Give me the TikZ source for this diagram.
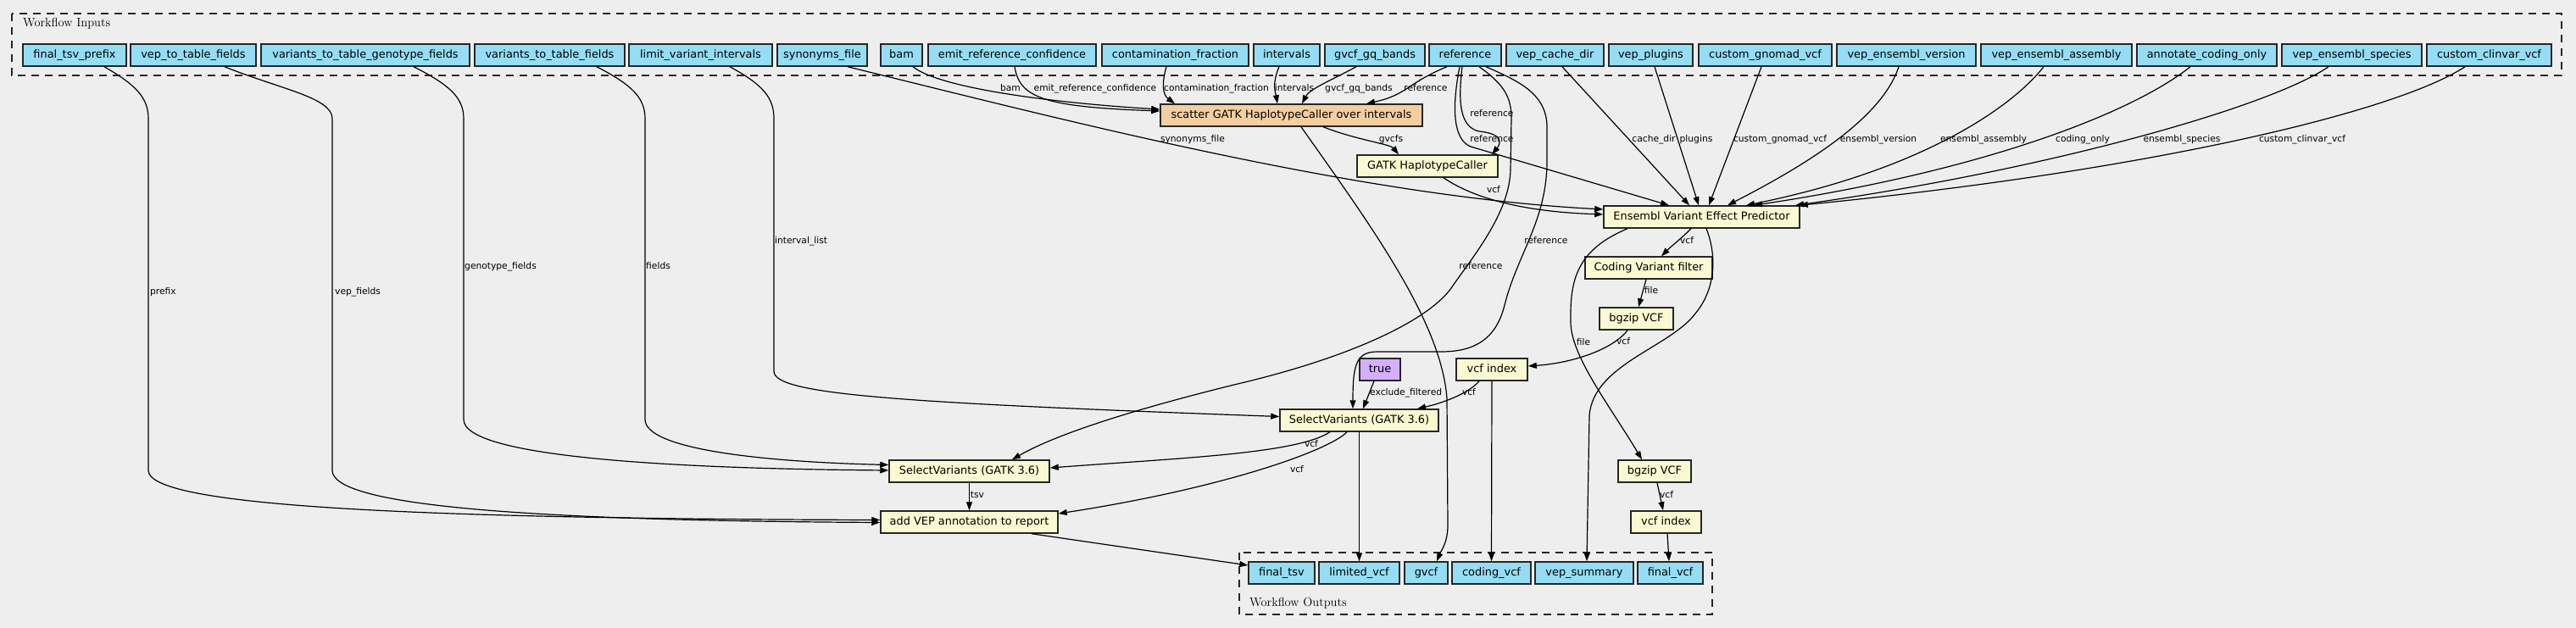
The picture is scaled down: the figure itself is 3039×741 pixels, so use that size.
\documentclass[tikz,border=0pt]{standalone}
\usepackage{fontspec}
\newfontfamily\dvs{DejaVu Sans}
\usetikzlibrary{arrows.meta}
\definecolor{inblue}{HTML}{94DDF4}
\definecolor{stepy}{HTML}{FAFAD2}
\definecolor{scat}{HTML}{F3CEA1}
\definecolor{defv}{HTML}{D5AEFC}
\definecolor{bgc}{HTML}{EEEEEE}
\begin{document}
\begin{tikzpicture}[x=1pt,y=-1pt,
  box/.style={draw=black!85, line width=1.5pt, minimum height=26pt, inner sep=0pt,
    font=\dvs\fontsize{12.9}{15}\selectfont, text height=9.4pt, text depth=3pt},
  inp/.style={box, fill=inblue},
  stp/.style={box, fill=stepy},
  sct/.style={box, fill=scat},
  dfv/.style={box, fill=defv},
  lab/.style={font=\dvs\fontsize{10.7}{12}\selectfont, inner sep=0pt, text height=7.8pt, text depth=2.4pt},
  edg/.style={line width=1.2pt, -{Triangle[length=10pt,width=7pt]}},
  clus/.style={draw=black!85, line width=1.4pt, dash pattern=on 9pt off 7pt},
  clab/.style={font=\fontsize{14.5}{17}\selectfont, inner sep=0pt}
]
\fill[bgc] (0,0) rectangle (3039,741);
\useasboundingbox (0,0) rectangle (3039,741);

% clusters
\draw[clus] (14,16) rectangle (3022,89);
\node[clab, anchor=base west] (tin) at (27,32) {Workflow Inputs};
\draw[clus] (1462,652) rectangle (2020,725);
\node[clab, anchor=base west] (tout) at (1474,715) {Workflow Outputs};

% inputs
\node[inp, minimum width=122pt] (iprefix) at (88,65) {final\_tsv\_prefix};
\node[inp, minimum width=148pt] (ivtf) at (228,65) {vep\_to\_table\_fields};
\node[inp, minimum width=246pt] (ivgf) at (431,65) {variants\_to\_table\_genotype\_fields};
\node[inp, minimum width=177pt] (ivf) at (648.5,65) {variants\_to\_table\_fields};
\node[inp, minimum width=169pt] (ilvi) at (826.5,65) {limit\_variant\_intervals};
\node[inp, minimum width=106pt] (isyn) at (970,65) {synonyms\_file};
\node[inp, minimum width=49pt] (ibam) at (1063.5,65) {bam};
\node[inp, minimum width=198pt] (ierc) at (1194,65) {emit\_reference\_confidence};
\node[inp, minimum width=173pt] (icf) at (1386.5,65) {contamination\_fraction};
\node[inp, minimum width=78pt] (iint) at (1518,65) {intervals};
\node[inp, minimum width=118pt] (igq) at (1622,65) {gvcf\_gq\_bands};
\node[inp, minimum width=85pt] (iref) at (1728.5,65) {reference};
\node[inp, minimum width=115pt] (icache) at (1834.5,65) {vep\_cache\_dir};
\node[inp, minimum width=99pt] (iplug) at (1947.5,65) {vep\_plugins};
\node[inp, minimum width=157pt] (ignomad) at (2082.5,65) {custom\_gnomad\_vcf};
\node[inp, minimum width=164pt] (iver) at (2249,65) {vep\_ensembl\_version};
\node[inp, minimum width=178pt] (iasm) at (2426,65) {vep\_ensembl\_assembly};
\node[inp, minimum width=165pt] (icod) at (2603.5,65) {annotate\_coding\_only};
\node[inp, minimum width=165pt] (ispc) at (2774.5,65) {vep\_ensembl\_species};
\node[inp, minimum width=147pt] (iclin) at (2936.5,65) {custom\_clinvar\_vcf};

% steps
\node[sct, minimum width=309pt] (scatter) at (1523.5,136) {scatter GATK HaplotypeCaller over intervals};
\node[stp, minimum width=166pt] (gatkhc) at (1684,196) {GATK HaplotypeCaller};
\node[stp, minimum width=231pt] (vep) at (2007.5,256) {Ensembl Variant Effect Predictor};
\node[stp, minimum width=150pt] (cvf) at (1945,316) {Coding Variant filter};
\node[stp, minimum width=87pt] (bgzA) at (1930.5,376) {bgzip VCF};
\node[stp, minimum width=84pt] (vidxA) at (1760,436) {vcf index};
\node[dfv, minimum width=48pt] (dtrue) at (1628,436) {true};
\node[stp, minimum width=187pt] (svr) at (1603.5,496) {SelectVariants (GATK 3.6)};
\node[stp, minimum width=189pt] (svl) at (1143.5,556) {SelectVariants (GATK 3.6)};
\node[stp, minimum width=209pt] (addvep) at (1143.5,616) {add VEP annotation to report};
\node[stp, minimum width=86pt] (bgzB) at (1952,556) {bgzip VCF};
\node[stp, minimum width=83pt] (vidxB) at (1965.5,616) {vcf index};

% outputs
\node[inp, minimum width=78pt] (otsv) at (1512,676) {final\_tsv};
\node[inp, minimum width=95pt] (olim) at (1603.5,676) {limited\_vcf};
\node[inp, minimum width=51pt] (ogvcf) at (1682.5,676) {gvcf};
\node[inp, minimum width=93pt] (ocod) at (1759.5,676) {coding\_vcf};
\node[inp, minimum width=116pt] (osum) at (1869,676) {vep\_summary};
\node[inp, minimum width=77pt] (ofin) at (1970.5,676) {final\_vcf};

% edges from left inputs
\draw[edg] ([xshift=35pt]iprefix.south) .. controls (160,100) and (175,115) .. (175,140) -- (175,555)
  .. controls (175,595) and (450,612) .. ([yshift=2.5pt]addvep.west);
\draw[edg] ([xshift=37pt]ivtf.south) .. controls (330,105) and (392,115) .. (392,140) -- (392,555)
  .. controls (392,595) and (600,614) .. ([yshift=-0.5pt]addvep.west);
\draw[edg] ([xshift=57pt]ivgf.south) .. controls (530,100) and (547,115) .. (547,140) -- (547,495)
  .. controls (547,540) and (800,553) .. ([yshift=1pt]svl.west);
\draw[edg] ([xshift=55.5pt]ivf.south) .. controls (745,100) and (761,115) .. (761,140) -- (761,495)
  .. controls (761,530) and (900,545) .. ([yshift=7.5pt]svl.west);
\draw[edg] ([xshift=34.5pt]ilvi.south) .. controls (900,100) and (913,115) .. (913,140) -- (913,438)
  .. controls (913,465) and (1050,475) .. ([yshift=4.5pt]svr.west);
\draw[edg] ([xshift=30pt]isyn.south) .. controls (1250,140) and (1600,232) .. ([yshift=9pt]vep.west);

% edges into scatter
\draw[edg] ([xshift=13.5pt]ibam.south) .. controls (1110,105) and (1250,122) .. ([yshift=7pt]scatter.west);
\draw[edg] ([xshift=3pt]ierc.south) .. controls (1203,115) and (1230,126) .. ([yshift=5pt]scatter.west);
\draw[edg] ([xshift=-10.5pt]icf.south) .. controls (1370,100) and (1372,112) .. ([xshift=-137.5pt]scatter.north);
\draw[edg] ([xshift=-9pt]iint.south) .. controls (1500,100) and (1505,110) .. ([xshift=-16.5pt]scatter.north);
\draw[edg] ([xshift=-22pt]igq.south) .. controls (1570,95) and (1545,105) .. ([xshift=12.5pt]scatter.north);
\draw[edg] ([xshift=-21.5pt]iref.south) .. controls (1660,98) and (1660,112) .. ([xshift=88.5pt]scatter.north);

% reference edges
\draw[edg] ([xshift=-3.5pt]iref.south) .. controls (1720,120) and (1722,150) .. (1745,155)
  .. controls (1775,158) and (1770,170) .. ([xshift=76pt]gatkhc.north);
\draw[edg] ([xshift=-6.5pt]iref.south) .. controls (1712,130) and (1715,165) .. (1735,173) -- ([xshift=-38.5pt]vep.north);
\draw[edg] ([xshift=16.5pt]iref.south) .. controls (1775,100) and (1783,115) .. (1783,140) -- (1782,200)
  .. controls (1781,250) and (1740,300) .. (1714,337) .. controls (1690,375) and (1600,420) .. (1460,453)
  .. controls (1350,480) and (1250,510) .. ([xshift=50.5pt]svl.north);
\draw[edg] ([xshift=24.5pt]iref.south) .. controls (1790,95) and (1825,110) .. (1825,150) -- (1825,190)
  .. controls (1825,260) and (1790,300) .. (1775,360) .. controls (1765,400) and (1740,415) .. (1700,415)
  -- (1625,415) .. controls (1600,415) and (1596,430) .. ([xshift=-7.5pt]svr.north);

% vep inputs
\draw[edg] ([xshift=8.5pt]icache.south) -- ([xshift=-14.5pt]vep.north);
\draw[edg] ([xshift=4.5pt]iplug.south) -- ([xshift=-3.5pt]vep.north);
\draw[edg] ([xshift=-4.5pt]ignomad.south) -- ([xshift=8.5pt]vep.north);
\draw[edg] ([xshift=-9pt]iver.south) .. controls (2220,140) and (2130,195) .. ([xshift=30.5pt]vep.north);
\draw[edg] ([xshift=-15pt]iasm.south) .. controls (2375,125) and (2270,200) .. ([xshift=52.5pt]vep.north);
\draw[edg] ([xshift=-19.5pt]icod.south) .. controls (2520,130) and (2350,200) .. ([xshift=61.5pt]vep.north);
\draw[edg] ([xshift=-27.5pt]ispc.south) .. controls (2680,125) and (2420,200) .. ([xshift=110.5pt]vep.north);
\draw[edg] ([xshift=-28.5pt]iclin.south) .. controls (2830,130) and (2550,200) .. ([xshift=-1pt]vep.north east);

% internal steps
\draw[edg] ([xshift=37.5pt]scatter.south) .. controls (1600,165) and (1640,170) .. ([xshift=-34pt]gatkhc.north);
\draw[edg] ([xshift=11.5pt]scatter.south) .. controls (1620,270) and (1700,380) .. (1707,470) -- (1708,620)
  .. controls (1708,640) and (1700,650) .. ([xshift=12.5pt]ogvcf.north);
\draw[edg] ([xshift=19pt]gatkhc.south) .. controls (1740,235) and (1800,250) .. ([yshift=3pt]vep.west);
\draw[edg] ([xshift=-12.5pt]vep.south) .. controls (1985,280) and (1970,292) .. ([xshift=15pt]cvf.north);
\draw[edg] ([xshift=-87.5pt]vep.south) .. controls (1860,295) and (1852,330) .. (1853,380)
  .. controls (1853,420) and (1900,480) .. ([xshift=-15pt]bgzB.north);
\draw[edg] ([xshift=5.5pt]vep.south) .. controls (2025,300) and (2025,340) .. (2000,370)
  .. controls (1970,410) and (1880,430) .. (1875,490) -- ([xshift=3pt]osum.north);
\draw[edg] ([xshift=-3pt]cvf.south) -- ([xshift=2.5pt]bgzA.north);
\draw[edg] ([xshift=-10.5pt]bgzA.south) .. controls (1905,410) and (1860,428) .. ([yshift=4pt]vidxA.east);
\draw[edg] ([xshift=-15pt]vidxA.south) .. controls (1732,465) and (1700,476) .. ([xshift=68.5pt]svr.north);
\draw[edg] (vidxA.south) -- (ocod.north);
\draw[edg] ([xshift=-7pt]dtrue.south) -- ([xshift=4.5pt]svr.north);
\draw[edg] ([xshift=-34.5pt]svr.south) .. controls (1530,535) and (1400,540) .. ([yshift=4pt]svl.east);
\draw[edg] ([xshift=-14.5pt]svr.south) .. controls (1570,530) and (1450,575) .. ([yshift=10pt]addvep.east);
\draw[edg] (svr.south) -- (olim.north);
\draw[edg] (svl.south) -- (addvep.north);
\draw[edg] ([xshift=73.5pt]addvep.south) -- ([yshift=9pt]otsv.west);
\draw[edg] ([xshift=3pt]bgzB.south) -- ([xshift=-3.5pt]vidxB.north);
\draw[edg] ([xshift=1.5pt]vidxB.south) -- ([xshift=-1.5pt]ofin.north);

% edge labels
\node[lab, anchor=west] (l1) at (177,345) {prefix};
\node[lab, anchor=west] (l2) at (395,345) {vep\_fields};
\node[lab, anchor=west] (l3) at (548,315) {genotype\_fields};
\node[lab, anchor=west] (l4) at (762,315) {fields};
\node[lab, anchor=west] (l5) at (914,285) {interval\_list};
\node[lab] (l6) at (1407,165) {synonyms\_file};
\node[lab] (l7) at (1192,105) {bam};
\node[lab] (l8) at (1292,105) {emit\_reference\_confidence};
\node[lab] (l9) at (1435,105) {contamination\_fraction};
\node[lab] (l10) at (1527,105) {intervals};
\node[lab] (l11) at (1603,105) {gvcf\_gq\_bands};
\node[lab] (l12) at (1682,105) {reference};
\node[lab] (l13) at (1760,135) {reference};
\node[lab] (l14) at (1760,165) {reference};
\node[lab] (l15) at (1747,315) {reference};
\node[lab] (l16) at (1824,285) {reference};
\node[lab] (l17) at (1951,165) {cache\_dir};
\node[lab] (l18) at (2001,165) {plugins};
\node[lab] (l19) at (2100,165) {custom\_gnomad\_vcf};
\node[lab] (l20) at (2216,165) {ensembl\_version};
\node[lab] (l21) at (2340,165) {ensembl\_assembly};
\node[lab] (l22) at (2457,165) {coding\_only};
\node[lab] (l23) at (2574,165) {ensembl\_species};
\node[lab] (l24) at (2716,165) {custom\_clinvar\_vcf};
\node[lab] (l25) at (1641,165) {gvcfs};
\node[lab] (l26) at (1762,225) {vcf};
\node[lab] (l27) at (1990,285) {vcf};
\node[lab] (l28) at (1868,405) {file};
\node[lab] (l29) at (1948,344) {file};
\node[lab] (l30) at (1915,404) {vcf};
\node[lab] (l31) at (1733,464) {vcf};
\node[lab, anchor=west] (l32) at (1616,464) {exclude\_filtered};
\node[lab] (l33) at (1547,525) {vcf};
\node[lab] (l34) at (1530,555) {vcf};
\node[lab] (l35) at (1153,585) {tsv};
\node[lab] (l36) at (1966,585) {vcf};
\end{tikzpicture}
\end{document}
